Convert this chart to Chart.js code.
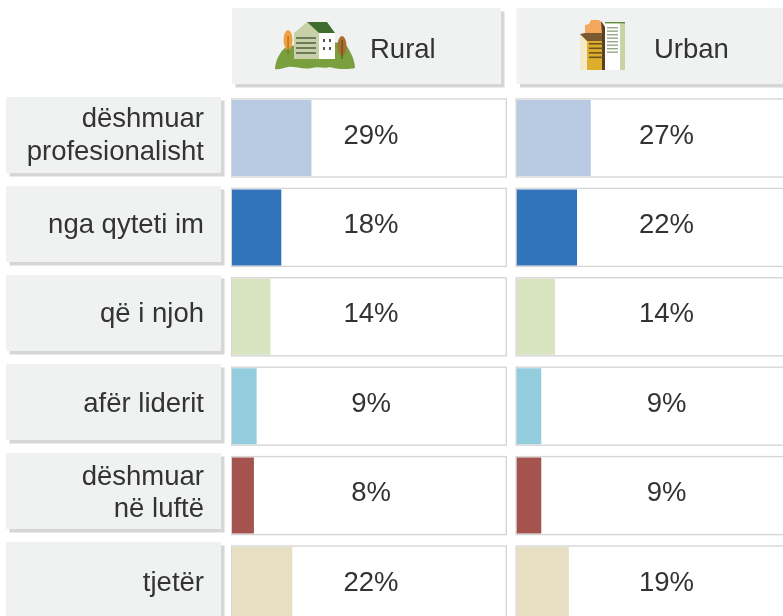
<!DOCTYPE html>
<html>
<head>
<meta charset="utf-8">
<style>
html,body{margin:0;padding:0;width:783px;height:616px;overflow:hidden;background:#fff}
canvas{position:absolute;top:0;filter:blur(0.4px)}
#left{left:0}
#right{left:510px}
svg{position:absolute;left:0;top:0;filter:blur(0.4px)}
</style>
<script src="https://cdn.jsdelivr.net/npm/chart.js@4/dist/chart.umd.min.js"></script>
</head>
<body>
<canvas id="left" width="510" height="640" style="width:510px;height:640px"></canvas>
<canvas id="right" width="310" height="640" style="width:310px;height:640px"></canvas>
<svg width="783" height="616" viewBox="0 0 783 616">
  <!-- Rural icon -->
  <path d="M275 69 C275 60 282 48 288 46 L344 42 C350 50 355 60 355 68 C348 70 335 69 330 67 C325 69 318 66 312 68 C302 70 295 66 288 67 C283 68 278 70 275 69Z" fill="#7a9f3e"/>
  <path d="M294 59 V33 L307 22 L319 33 V59Z" fill="#c8d0a8"/>
  <path d="M307 22 H327 L335 33 H319Z" fill="#3f6b2c"/>
  <rect x="319" y="33" width="16" height="26" fill="#fff"/>
  <g fill="#6d7a5c"><rect x="296" y="37" width="20" height="2"/><rect x="296" y="42" width="20" height="2"/><rect x="296" y="47" width="20" height="2"/><rect x="296" y="52" width="20" height="2"/></g>
  <g fill="#555"><rect x="323" y="39" width="2" height="3"/><rect x="329" y="39" width="2" height="3"/><rect x="323" y="47" width="2" height="3"/><rect x="329" y="47" width="2" height="3"/></g>
  <ellipse cx="288" cy="40" rx="4.5" ry="10" fill="#f0a040"/><rect x="287.6" y="36" width="0.9" height="18" fill="#8a5a20"/>
  <ellipse cx="342" cy="46" rx="4.5" ry="10" fill="#a8702f"/><rect x="341.6" y="40" width="0.9" height="19" fill="#5d3c18"/>
  <!-- Urban icon -->
  <rect x="580" y="34" width="8" height="36" fill="#f5e9c8"/>
  <rect x="587" y="41" width="18" height="29" fill="#dcae2c"/>
  <path d="M585 33 V25 L589 24 L591 20 L599 20 L603 24 V33Z" fill="#f5a85c"/>
  <path d="M580 34 L585 33 H603 V41 H587Z" fill="#7a5a30"/>
  <path d="M601 21 L605 27 V70 H602 V33Z" fill="#5a3f20"/>
  <rect x="605" y="23" width="15" height="47" fill="#fff"/>
  <rect x="620" y="23" width="5" height="47" fill="#c8d4a8"/>
  <rect x="605" y="22" width="20" height="1.4" fill="#5f8a3c"/>
  <g fill="#94a884"><rect x="607" y="27" width="11" height="1.4"/><rect x="607" y="30.5" width="11" height="1.4"/><rect x="607" y="34" width="11" height="1.4"/><rect x="607" y="37.5" width="11" height="1.4"/><rect x="607" y="41" width="11" height="1.4"/><rect x="607" y="44.5" width="11" height="1.4"/><rect x="607" y="48" width="11" height="1.4"/><rect x="607" y="51.5" width="11" height="1.4"/></g>
  <g fill="#6d5420"><rect x="589" y="43" width="14" height="1.6"/><rect x="589" y="47.5" width="14" height="1.6"/><rect x="589" y="52" width="14" height="1.6"/><rect x="589" y="56.5" width="14" height="1.6"/></g>
</svg>
<script>
const categories = [["dëshmuar","profesionalisht"],"nga qyteti im","që i njoh","afër liderit",["dëshmuar","në luftë"],"tjetër"];
const ruralValues = [29,18,14,9,8,22];
const urbanValues = [27,22,14,9,9,19];
const barColors = ["#b8cbe3","#3274bb","#d8e4bf","#93cddd","#a5534f","#e6dfc2"];
const ruralName = "Rural";
const urbanName = "Urban";
const ink = "#333333";
const font = '27.5px "Liberation Sans"';

function panel(ctx,x,y,w,h){
  ctx.fillStyle="#d6d6d6"; ctx.fillRect(x+3.5,y+3.5,w,h);
  ctx.fillStyle="#f0f2f2"; ctx.fillRect(x,y,w,h);
}
const tablePlugin = {
  id:"table",
  beforeDraw(chart,args,o){
    const ctx=chart.ctx, xs=chart.scales.x, ys=chart.scales.y;
    ctx.save();
    // header panel with series name
    panel(ctx,xs.left,8,o.headerWidth,76);
    ctx.font=font; ctx.fillStyle=ink; ctx.textAlign="left"; ctx.textBaseline="middle";
    ctx.fillText(chart.data.datasets[0].label,xs.left+o.nameOffset,50);
    // category panels (left chart only)
    if(o.rowPanels){
      chart.data.labels.forEach((l,i)=>{
        const c=ys.getPixelForTick(i);
        panel(ctx,6,c-41-0.4*i,215,76);
      });
      // lift the tick labels to sit on the panel centre
      if(!chart.$lifted){
        ys.getLabelItems().forEach(it=>{it.options.translation=[it.options.translation[0],it.options.translation[1]-2];});
        chart.$lifted=true;
      }
    }
    // row frames
    chart.data.labels.forEach((l,i)=>{
      const c=ys.getPixelForTick(i);
      ctx.fillStyle="#fff"; ctx.fillRect(xs.left,c-39,xs.right-xs.left,78);
      ctx.strokeStyle="#d6d6d6"; ctx.lineWidth=1.4;
      ctx.strokeRect(xs.left-0.3,c-39,xs.right-xs.left+0.6,78);
    });
    ctx.restore();
  },
  afterDatasetsDraw(chart,args,o){
    const ctx=chart.ctx, xs=chart.scales.x, ys=chart.scales.y;
    ctx.save();
    ctx.font=font; ctx.fillStyle=ink; ctx.textAlign="center"; ctx.textBaseline="middle";
    chart.data.datasets[0].data.forEach((v,i)=>{
      ctx.fillText(v+"%",(xs.left+xs.right)/2+o.labelShift,ys.getPixelForTick(i)-2);
    });
    ctx.restore();
  }
};

function build(id,name,values,xMax,pad,showY,table){
  return new Chart(document.getElementById(id),{
    type:"bar",
    data:{labels:categories,datasets:[{label:name,data:values,backgroundColor:barColors,borderWidth:0,barPercentage:0.85,categoryPercentage:1}]},
    plugins:[tablePlugin],
    options:{
      indexAxis:"y",responsive:false,animation:false,
      layout:{padding:pad},
      plugins:{legend:{display:false},tooltip:{enabled:false},table},
      scales:{
        x:{display:false,min:0,max:xMax,grid:{display:false}},
        y:{display:showY,grid:{display:false,drawBorder:false},border:{display:false},
           afterFit(s){ if(showY){ s.width=232; s.paddingTop=0; s.paddingBottom=0; } },
           ticks:{autoSkip:false,padding:20,color:ink,font:{family:"Liberation Sans",size:27.5,lineHeight:1.17}}}
      }
    }
  });
}
build("left",ruralName,ruralValues,100,{left:0,right:4,top:93.3,bottom:10.3},true,
  {headerWidth:269,nameOffset:138,labelShift:2,rowPanels:true});
build("right",urbanName,urbanValues,109,{left:6.5,right:3.5,top:93.3,bottom:10.3},false,
  {headerWidth:300,nameOffset:137.5,labelShift:0,rowPanels:false});
</script>
</body>
</html>
